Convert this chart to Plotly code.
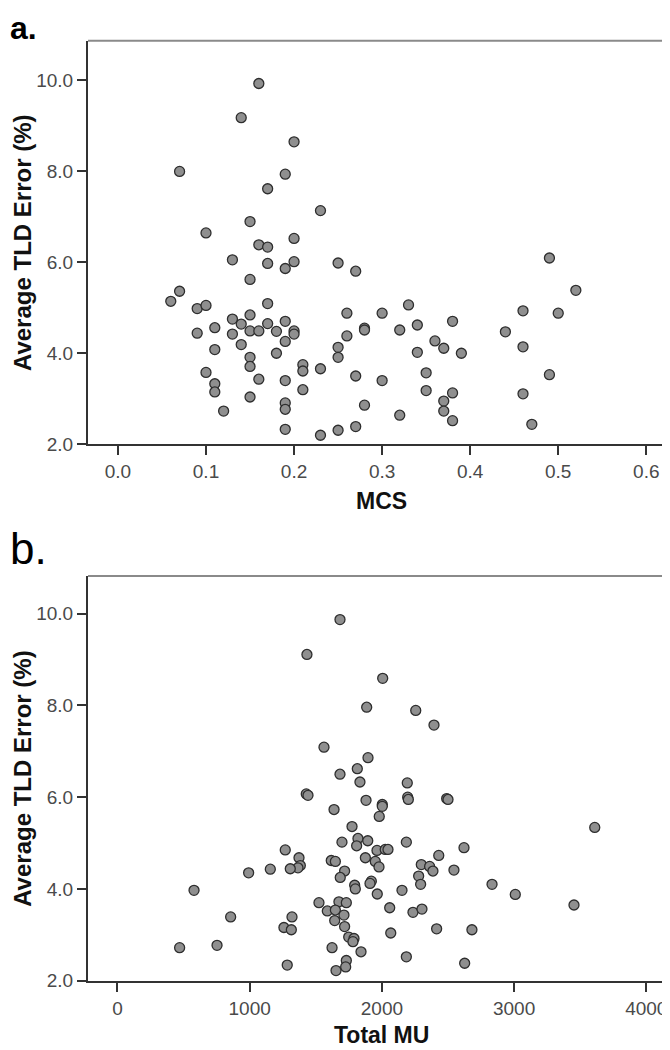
import plotly.graph_objects as go

# ---- Panel a: MCS vs Average TLD Error (%) ----
mcs = [0.16, 0.14, 0.20, 0.07, 0.19, 0.17, 0.23, 0.15, 0.10, 0.20,
       0.16, 0.17, 0.13, 0.17, 0.19, 0.20, 0.25, 0.15, 0.06, 0.07,
       0.09, 0.10, 0.17, 0.26, 0.13, 0.15, 0.14, 0.19, 0.17, 0.11,
       0.09, 0.13, 0.15, 0.16, 0.18, 0.20, 0.20, 0.26, 0.19, 0.14,
       0.11, 0.25, 0.18, 0.25, 0.15, 0.15, 0.21, 0.21, 0.23, 0.10,
       0.16, 0.19, 0.11, 0.11, 0.21, 0.15, 0.19, 0.19, 0.12, 0.19,
       0.23, 0.25, 0.27, 0.49, 0.52, 0.33, 0.30, 0.46, 0.50, 0.34,
       0.38, 0.28, 0.28, 0.32, 0.44, 0.36, 0.37, 0.46, 0.34, 0.39,
       0.35, 0.27, 0.30, 0.49, 0.35, 0.38, 0.46, 0.37, 0.28, 0.37,
       0.32, 0.38, 0.47, 0.27]
err_a = [9.92, 9.17, 8.64, 7.99, 7.93, 7.61, 7.13, 6.89, 6.64, 6.52,
         6.38, 6.33, 6.05, 5.97, 5.86, 6.01, 5.98, 5.62, 5.14, 5.36,
         4.98, 5.05, 5.09, 4.88, 4.75, 4.84, 4.64, 4.70, 4.65, 4.56,
         4.44, 4.42, 4.49, 4.49, 4.48, 4.49, 4.42, 4.38, 4.26, 4.19,
         4.08, 4.13, 4.00, 3.91, 3.91, 3.71, 3.75, 3.61, 3.66, 3.58,
         3.43, 3.40, 3.33, 3.15, 3.20, 3.04, 2.91, 2.77, 2.73, 2.33,
         2.20, 2.31, 5.80, 6.09, 5.38, 5.06, 4.88, 4.93, 4.88, 4.62,
         4.70, 4.55, 4.51, 4.51, 4.47, 4.27, 4.11, 4.14, 4.02, 4.00,
         3.57, 3.50, 3.40, 3.53, 3.18, 3.13, 3.11, 2.95, 2.86, 2.73,
         2.64, 2.52, 2.44, 2.39]

# ---- Panel b: Total MU vs Average TLD Error (%) ----
total_mu = [1683, 1433, 2006, 1885, 2256, 2394, 1562, 1895, 1814, 1683,
            1834, 2192, 1428, 1441, 2195, 2200, 1880, 2003, 2003, 1638,
            1980, 1774, 1819, 1893, 1698, 1809, 2185, 1269, 1963, 2025,
            2046, 2430, 1373, 1875, 1617, 1648, 1950, 1383, 1365, 1307,
            1978, 1718, 2298, 2361, 2386, 1685, 2278, 2293, 1794, 1799,
            1920, 1910, 1965, 2152, 1524, 1675, 1731, 1587, 1648, 1713,
            2059, 2235, 2303, 1320, 1643, 1718, 1259, 1315, 2414, 2681,
            2067, 1749, 1789, 1781, 1623, 1842, 2185, 1284, 1731, 1726,
            1653, 2490, 2500, 3610, 2621, 2545, 2833, 3009, 3453, 2626,
            992, 1156, 579, 856, 470, 753]
err_b = [9.87, 9.11, 8.59, 7.96, 7.89, 7.57, 7.09, 6.86, 6.62, 6.50,
         6.33, 6.31, 6.07, 6.04, 6.00, 5.95, 5.93, 5.84, 5.80, 5.73,
         5.58, 5.36, 5.10, 5.05, 5.02, 4.94, 5.02, 4.85, 4.84, 4.86,
         4.86, 4.73, 4.68, 4.68, 4.62, 4.60, 4.60, 4.51, 4.46, 4.44,
         4.48, 4.39, 4.53, 4.49, 4.39, 4.25, 4.28, 4.10, 4.08, 4.00,
         4.17, 4.12, 3.89, 3.97, 3.70, 3.72, 3.70, 3.52, 3.54, 3.43,
         3.59, 3.49, 3.56, 3.39, 3.31, 3.18, 3.16, 3.11, 3.13, 3.11,
         3.04, 2.95, 2.92, 2.85, 2.72, 2.63, 2.52, 2.34, 2.44, 2.30,
         2.22, 5.97, 5.95, 5.34, 4.90, 4.41, 4.10, 3.88, 3.65, 2.38,
         4.35, 4.43, 3.97, 3.39, 2.72, 2.77]

y_ticks = [2.0, 4.0, 6.0, 8.0, 10.0]
mcs_ticks = [0.0, 0.1, 0.2, 0.3, 0.4, 0.5, 0.6]
mu_ticks = [0, 1000, 2000, 3000, 4000]

W, H = 670, 1050
FONT = "Liberation Sans, Arial, sans-serif"

def px_x(p):
    return p / W

def px_y(p):
    return 1 - p / H

# plot areas in pixels
L, R = 80, 667
A_TOP, A_BOT = 33, 441
B_TOP, B_BOT = 574, 983

marker = dict(size=10, color="#8f8f8f", line=dict(color="#2e2e2e", width=1.3))

fig = go.Figure()
fig.add_trace(go.Scatter(x=mcs, y=err_a, mode="markers", marker=marker,
                         xaxis="x", yaxis="y", showlegend=False))
fig.add_trace(go.Scatter(x=total_mu, y=err_b, mode="markers", marker=marker,
                         xaxis="x2", yaxis="y2", showlegend=False))

tickfont = dict(family=FONT, size=19, color="#4a4a4a")
common = dict(showgrid=False, zeroline=False, showline=True, linecolor="#333333",
              linewidth=2, ticks="outside", ticklen=9, tickwidth=2, tickcolor="#333333",
              tickfont=tickfont, mirror=False)

fig.update_layout(
    width=W, height=H,
    margin=dict(l=0, r=0, t=0, b=0),
    paper_bgcolor="white", plot_bgcolor="white",
    xaxis=dict(domain=[px_x(L), px_x(R)], anchor="y", range=[-0.034, 0.6326],
               tickvals=mcs_ticks, tickformat=".1f", **common),
    yaxis=dict(domain=[px_y(A_BOT), px_y(A_TOP)], anchor="x", range=[2.0, 10.86],
               tickvals=y_ticks, tickformat=".1f", **common),
    xaxis2=dict(domain=[px_x(L), px_x(R)], anchor="y2", range=[-223, 4217],
                tickvals=mu_ticks, tickformat="d", **common),
    yaxis2=dict(domain=[px_y(B_BOT), px_y(B_TOP)], anchor="x2", range=[2.0, 10.82],
                tickvals=y_ticks, tickformat=".1f", **common),
)

# frame top/right lines (gray)
for top, bot in [(A_TOP, A_BOT), (B_TOP, B_BOT)]:
    fig.add_shape(type="line", xref="paper", yref="paper",
                  x0=px_x(L), x1=px_x(R), y0=px_y(top), y1=px_y(top),
                  line=dict(color="#8a8a8a", width=2))
    fig.add_shape(type="line", xref="paper", yref="paper",
                  x0=px_x(R), x1=px_x(R), y0=px_y(top), y1=px_y(bot),
                  line=dict(color="#555555", width=2))

xtitle_font = dict(family=FONT, size=23, color="#111111")
ytitle_font = dict(family=FONT, size=24, color="#111111")
ann = [
    dict(text="<b>a.</b>", x=px_x(1), y=px_y(1), xanchor="left", yanchor="top",
         font=dict(family=FONT, size=32, color="black")),
    dict(text="b.", x=px_x(1), y=px_y(520), xanchor="left", yanchor="top",
         font=dict(family=FONT, size=44, color="black")),
    dict(text="<b>MCS</b>", x=px_x((L + R) / 2), y=px_y(498), xanchor="center", yanchor="middle",
         font=xtitle_font),
    dict(text="<b>Total MU</b>", x=px_x((L + R) / 2), y=px_y(1038), xanchor="center", yanchor="middle",
         font=xtitle_font),
    dict(text="<b>Average TLD Error (%)</b>", x=px_x(0), y=px_y((A_TOP + A_BOT) / 2),
         xanchor="left", yanchor="middle", textangle=-90, font=ytitle_font),
    dict(text="<b>Average TLD Error (%)</b>", x=px_x(0), y=px_y((B_TOP + B_BOT) / 2),
         xanchor="left", yanchor="middle", textangle=-90, font=ytitle_font),
]
for a in ann:
    fig.add_annotation(xref="paper", yref="paper", showarrow=False, borderpad=0, **a)

fig.write_html("out.html")
